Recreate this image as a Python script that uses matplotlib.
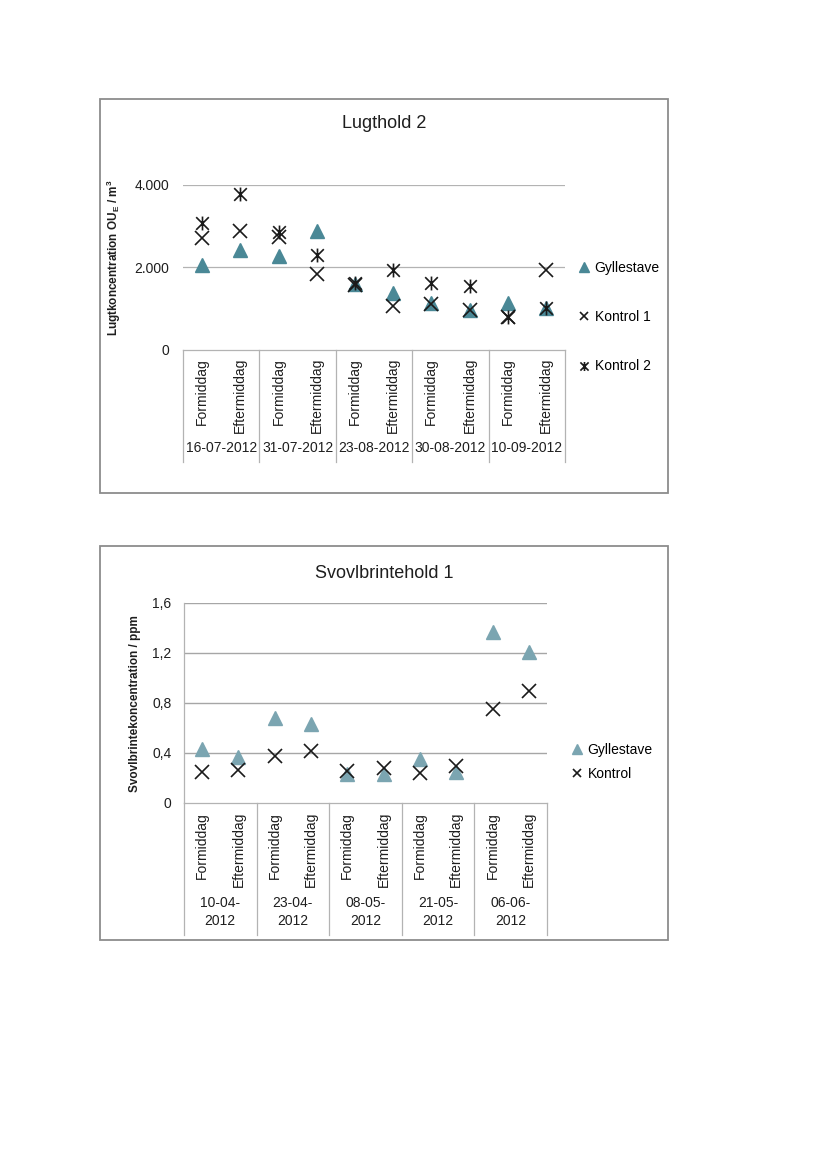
import matplotlib
matplotlib.use('Agg')
import matplotlib.pyplot as plt
from matplotlib.patches import Rectangle
from matplotlib.path import Path
import numpy as np

plt.rcParams['font.family'] = ['Liberation Sans', 'DejaVu Sans']
plt.rcParams['mathtext.fontset'] = 'custom'
plt.rcParams['mathtext.rm'] = 'Liberation Sans'
plt.rcParams['mathtext.bf'] = 'Liberation Sans:bold'

# --- data, chart 1 (Lugthold 2) ---
lugt_dates = ['16-07-2012', '31-07-2012', '23-08-2012', '30-08-2012', '10-09-2012']
times = ['Formiddag', 'Eftermiddag']
lugt_gyllestave = [2050, 2430, 2280, 2880, 1600, 1370, 1130, 960, 1140, 1010]
lugt_kontrol1 = [2720, 2880, 2750, 1840, 1570, 1070, 1120, 970, 790, 1940]
lugt_kontrol2 = [3070, 3780, 2870, 2300, 1620, 1940, 1630, 1540, 800, 1030]
lugt_yticks = [0, 2000, 4000]
lugt_yticklabels = ['0', '2.000', '4.000']

# --- data, chart 2 (Svovlbrintehold 1) ---
svovl_dates = ['10-04-\n2012', '23-04-\n2012', '08-05-\n2012', '21-05-\n2012', '06-06-\n2012']
svovl_gyllestave = [0.43, 0.365, 0.68, 0.635, 0.235, 0.235, 0.35, 0.245, 1.37, 1.205]
svovl_kontrol = [0.245, 0.265, 0.373, 0.418, 0.26, 0.28, 0.24, 0.30, 0.754, 0.898]
svovl_yticks = [0, 0.4, 0.8, 1.2, 1.6]
svovl_yticklabels = ['0', '0,4', '0,8', '1,2', '1,6']

# asterisk marker like Excel's star: an x with a vertical bar
star = Path([(-1, -1), (1, 1), (-1, 1), (1, -1), (0, -1.1), (0, 1.1)],
			[Path.MOVETO, Path.LINETO, Path.MOVETO, Path.LINETO, Path.MOVETO, Path.LINETO])

GRID = '#b3b3b3'
TXT = '#1e1e1e'
W, H = 826, 1169


def fig_box(fig, x0, y0, x1, y1):
	fig.add_artist(Rectangle((x0 / W, 1 - y1 / H), (x1 - x0) / W, (y1 - y0) / H,
							 transform=fig.transFigure, fill=False, edgecolor='#8c8c8c', lw=1.3))


def px_axes(fig, x0, y0, x1, y1):
	return fig.add_axes([x0 / W, 1 - y1 / H, (x1 - x0) / W, (y1 - y0) / H])


def category_axis(ax, dates, drop, time_y, date_y, linespacing=1.2):
	n = len(dates) * len(times)
	ax.set_xlim(-0.5, n - 0.5)
	ax.set_xticks([])
	tr = ax.get_xaxis_transform()
	for g in range(len(dates) + 1):
		xb = g * len(times) - 0.5
		ax.plot([xb, xb], [0, -drop], transform=tr, clip_on=False, color=GRID, lw=0.9)
	for i in range(n):
		ax.text(i, time_y, times[i % 2], transform=tr, rotation=90, ha='center', va='top',
				fontsize=10, color=TXT)
	for g, d in enumerate(dates):
		ax.text(g * 2 + 0.5, date_y, d, transform=tr, ha='center', va='center',
				fontsize=10, color=TXT, linespacing=linespacing)


fig = plt.figure(figsize=(W / 100, H / 100), dpi=100)

# ---------------- chart 1 ----------------
fig_box(fig, 100, 99, 668, 493)
fig.text(384 / W, 1 - 124 / H, 'Lugthold 2', ha='center', va='center', fontsize=13, color=TXT)
ax = px_axes(fig, 183, 185, 565, 350)
x = np.arange(len(lugt_gyllestave))
ax.plot(x, lugt_gyllestave, ls='none', marker='^', ms=10, color='#4a8896', mec='#4a8896', label='Gyllestave')
ax.plot(x, lugt_kontrol1, ls='none', marker='x', ms=9.5, mew=1.2, color='#1a1a1a', label='Kontrol 1')
ax.plot(x, lugt_kontrol2, ls='none', marker=star, ms=10, mew=1.2, mfc='none', color='#1a1a1a', label='Kontrol 2')
ax.set_ylim(0, 4000)
ax.set_yticks(lugt_yticks)
ax.set_yticklabels(lugt_yticklabels)
ax.tick_params(axis='y', length=0, pad=10, labelsize=10, labelcolor=TXT)
for yv in lugt_yticks[1:]:
	ax.axhline(yv, color=GRID, lw=0.9, zorder=0)
for s in ['top', 'right', 'left']:
	ax.spines[s].set_visible(False)
ax.spines['bottom'].set_color(GRID)
ax.spines['bottom'].set_linewidth(0.9)
ax.set_ylabel('Lugtkoncentration OU$_{\\mathbf{E}}$ / m$^{\\mathbf{3}}$', fontsize=8.5,
			  fontweight='bold', color=TXT)
ax.yaxis.set_label_coords((123 - 183) / 382, (350 - 258) / 165)
category_axis(ax, lugt_dates, 112 / 165, -8 / 165, -98 / 165)
ax.legend(loc='center left', bbox_to_anchor=((578 - 183) / 382, (350 - 317) / 165), frameon=False,
		  fontsize=10, markerscale=0.65, handlelength=0.9, handletextpad=0.3, labelspacing=2.55,
		  borderpad=0, borderaxespad=0)

# ---------------- chart 2 ----------------
fig_box(fig, 100, 546, 668, 940)
fig.text(384 / W, 1 - 574 / H, 'Svovlbrintehold 1', ha='center', va='center', fontsize=13, color=TXT)
ax2 = px_axes(fig, 184, 603, 547, 803)
x = np.arange(len(svovl_gyllestave))
ax2.plot(x, svovl_gyllestave, ls='none', marker='^', ms=10, color='#7ba5b1', mec='#7ba5b1', label='Gyllestave')
ax2.plot(x, svovl_kontrol, ls='none', marker='x', ms=9.5, mew=1.2, color='#1a1a1a', label='Kontrol')
ax2.set_ylim(0, 1.6)
ax2.set_yticks(svovl_yticks)
ax2.set_yticklabels(svovl_yticklabels)
ax2.tick_params(axis='y', length=0, pad=9, labelsize=10, labelcolor=TXT)
for yv in svovl_yticks[1:]:
	ax2.axhline(yv, color='#a6a6a6', lw=1.0, zorder=0)
for s in ['top', 'right']:
	ax2.spines[s].set_visible(False)
for s in ['left', 'bottom']:
	ax2.spines[s].set_color(GRID)
	ax2.spines[s].set_linewidth(0.9)
ax2.set_ylabel('Svovlbrintekoncentration / ppm', fontsize=8.5, fontweight='bold', color=TXT)
ax2.yaxis.set_label_coords((141 - 184) / 363, (803 - 704) / 200)
category_axis(ax2, svovl_dates, 132 / 200, -9 / 200, -109 / 200, linespacing=1.45)
ax2.legend(loc='center left', bbox_to_anchor=((571 - 184) / 363, (803 - 762) / 200), frameon=False,
		   fontsize=10, markerscale=0.65, handlelength=0.9, handletextpad=0.3, labelspacing=0.75,
		   borderpad=0, borderaxespad=0)

fig.savefig('out.png', dpi=100)
plt.close(fig)
